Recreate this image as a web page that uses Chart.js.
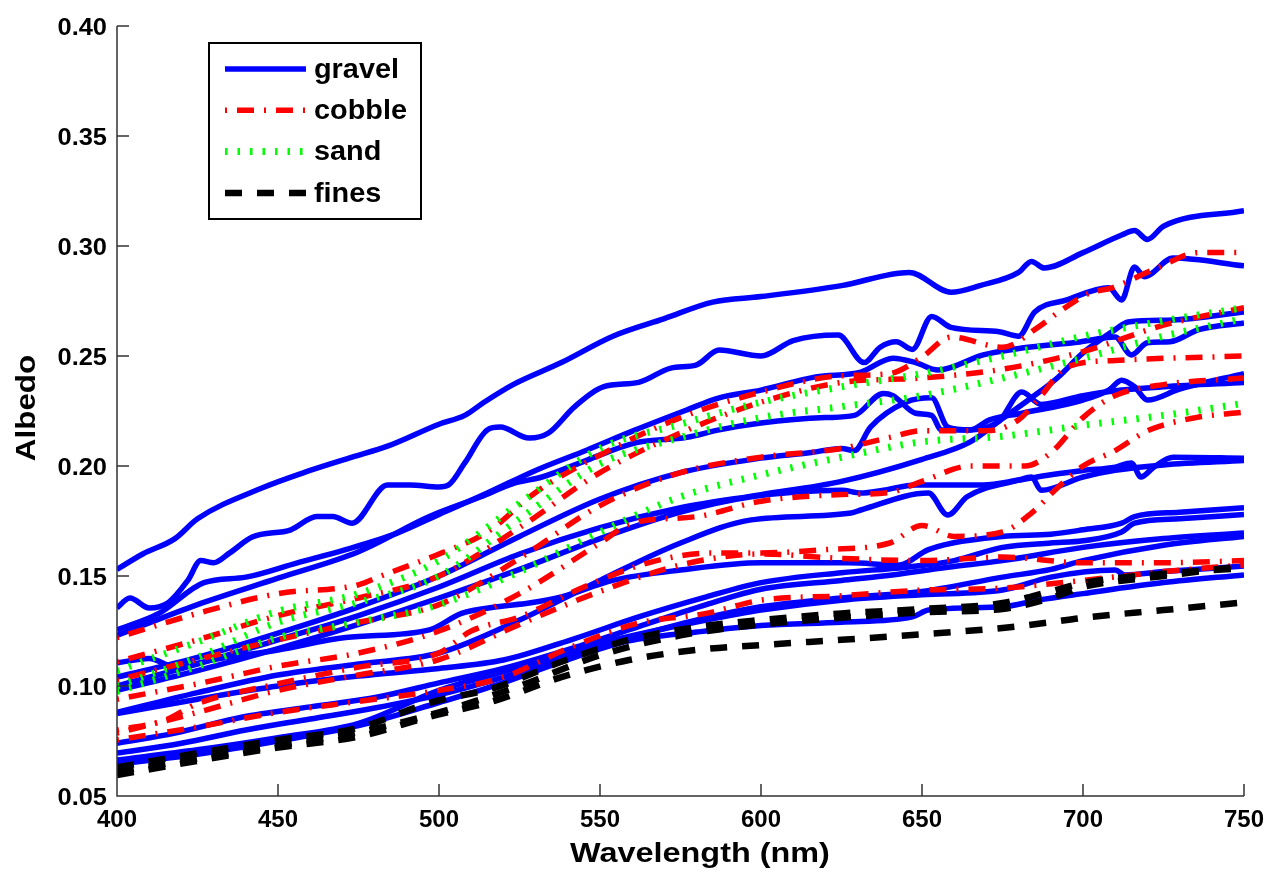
<!DOCTYPE html>
<html>
<head>
<meta charset="utf-8">
<script src="https://cdn.jsdelivr.net/npm/chart.js@4.4.1/dist/chart.umd.min.js"></script>
<style>
  html, body { margin: 0; padding: 0; background: #fff; }
  canvas { display: block; }
</style>
</head>
<body>
<canvas id="albedoChart" width="1270" height="873"></canvas>
<script>
// Axis ticks
const xTicks = [400, 450, 500, 550, 600, 650, 700, 750];
const yTicks = [0.05, 0.10, 0.15, 0.20, 0.25, 0.30, 0.35, 0.40];

// Gravel spectra [wavelength nm, albedo]
const gravel1 = [[400,.153],[408,.160],[418,.167],[425,.176],[445,.190],[458,.197],[473,.204],[484,.209],[500,.219],[508,.223],[514,.229],[523,.237],[538,.247],[554,.259],[570,.267],[585,.2745],[600,.277],[625,.282],[646,.288],[659,.279],[668,.282],[680,.288],[684,.293],[688,.290],[700,.297],[712,.305],[716,.307],[720,.303],[725,.309],[750,.316]];
const gravel2 = [[400,.1355],[404,.140],[410,.1355],[416,.138],[422,.148],[426,.157],[430,.156],[435,.1605],[442,.1677],[454,.171],[462,.177],[467,.177],[473,.174],[484,.1914],[491,.1914],[500,.1905],[503,.1914],[508,.2014],[515,.2164],[519,.2177],[528,.2127],[534,.215],[542,.2268],[551,.236],[562,.238],[572,.2445],[580,.246],[587,.2527],[600,.250],[610,.257],[624,.2595],[632,.247],[637,.254],[642,.2565],[647,.253],[653,.268],[659,.263],[674,.261],[680,.259],[685,.270],[695,.2755],[708,.281],[712,.2755],[716,.2905],[719,.286],[728,.2945],[750,.291]];
const gravel3 = [[400,.1255],[413,.133],[427,.147],[440,.1495],[456,.156],[471,.162],[487,.1695],[500,.178],[515,.1877],[530,.198],[546,.2073],[561,.2164],[577,.2255],[587,.231],[600,.2345],[617,.2405],[631,.2427],[641,.249],[648,.247],[655,.2436],[669,.2505],[681,.2536],[699,.2564],[710,.2586],[715,.2505],[720,.256],[727,.2565],[736,.262],[750,.265]];
const gravel4 = [[400,.123],[425,.137],[450,.149],[475,.161],[497,.177],[513,.186],[523,.192],[532,.195],[546,.2027],[561,.2105],[577,.213],[587,.2164],[600,.2195],[620,.222],[629,.223],[638,.233],[641,.232],[648,.224],[653,.223],[656,.2164],[665,.2164],[671,.221],[681,.224],[700,.230],[708,.2345],[712,.239],[716,.236],[720,.230],[730,.235],[750,.242]];
const gravel5 = [[400,.104],[425,.113],[450,.124],[475,.136],[500,.150],[525,.168],[550,.185],[575,.197],[600,.2036],[615,.206],[625,.208],[629,.207],[634,.2177],[645,.229],[653,.231],[658,.2177],[665,.2164],[674,.2205],[681,.2336],[687,.228],[700,.232],[712,.2345],[725,.236],[750,.238]];
const gravel6 = [[400,.100],[425,.110],[450,.121],[475,.132],[500,.145],[525,.160],[550,.172],[575,.181],[600,.187],[625,.193],[650,.203],[665,.211],[674,.2205],[684,.231],[692,.240],[700,.2514],[710,.262],[714,.2655],[728,.2664],[750,.270]];
const gravel7 = [[400,.098],[425,.107],[450,.117],[475,.128],[500,.140],[525,.153],[550,.167],[575,.179],[597,.186],[625,.189],[631,.1877],[638,.189],[648,.1914],[669,.1914],[680,.1936],[690,.196],[700,.198],[710,.1995],[715,.2014],[718,.195],[722,.1995],[728,.204],[750,.2035]];
const gravel8 = [[400,.088],[425,.097],[450,.105],[475,.110],[500,.115],[525,.130],[550,.148],[575,.165],[597,.1755],[628,.1786],[631,.180],[652,.1877],[658,.1777],[664,.186],[680,.1936],[684,.195],[687,.189],[700,.195],[710,.198],[725,.2005],[750,.2025]];
const gravel9 = [[400,.1105],[410,.1125],[418,.1086],[430,.112],[450,.1164],[471,.122],[497,.1255],[507,.133],[518,.136],[528,.1377],[538,.1405],[554,.148],[575,.1527],[600,.156],[627,.156],[643,.155],[652,.162],[675,.168],[690,.169],[700,.171],[712,.174],[716,.177],[730,.179],[750,.181]];
const gravel10 = [[400,.0875],[425,.094],[450,.100],[475,.1045],[500,.108],[520,.1118],[541,.121],[562,.1314],[583,.1405],[600,.147],[625,.1515],[645,.154],[660,.157],[675,.163],[690,.165],[700,.166],[712,.170],[716,.174],[730,.176],[750,.178]];
const gravel11 = [[400,.074],[418,.0786],[439,.0859],[460,.0905],[481,.095],[500,.1014],[520,.108],[541,.117],[562,.127],[583,.137],[600,.144],[625,.148],[638,.150],[658,.154],[675,.157],[700,.163],[725,.167],[750,.1695]];
const gravel12 = [[400,.0695],[420,.074],[440,.080],[460,.085],[480,.090],[500,.096],[520,.104],[541,.114],[562,.123],[583,.131],[600,.136],[625,.140],[650,.143],[675,.1495],[690,.153],[700,.157],[725,.164],[750,.168]];
const gravel13 = [[400,.0664],[425,.071],[450,.0765],[475,.083],[500,.098],[520,.1065],[541,.116],[562,.1235],[583,.130],[600,.1345],[625,.139],[650,.1415],[675,.1436],[690,.1495],[710,.1527],[713,.1505],[725,.152],[750,.1545]];
const gravel14 = [[400,.0645],[425,.069],[450,.075],[475,.082],[500,.0925],[518,.1005],[538,.111],[559,.1205],[580,.1245],[600,.1275],[625,.129],[647,.1314],[652,.1345],[675,.136],[686,.139],[700,.142],[725,.147],[750,.1505]];

// Cobble spectra
const cobble1 = [[400,.122],[425,.133],[450,.142],[475,.146],[482,.150],[500,.160],[515,.170],[530,.188],[550,.205],[575,.222],[600,.2336],[625,.241],[640,.242],[650,.2495],[659,.2586],[675,.254],[686,.263],[692,.2695],[702,.2786],[709,.281],[723,.290],[736,.297],[750,.297]];
const cobble2 = [[400,.111],[425,.121],[450,.132],[475,.140],[500,.150],[525,.172],[550,.197],[575,.215],[600,.229],[625,.238],[650,.240],[675,.244],[700,.252],[725,.264],[750,.272]];
const cobble3 = [[400,.1027],[425,.112],[450,.121],[475,.129],[500,.137],[525,.158],[550,.182],[575,.197],[600,.204],[625,.208],[640,.213],[650,.216],[670,.216],[680,.221],[687,.232],[695,.245],[710,.248],[750,.250]];
const cobble4 = [[400,.094],[425,.101],[450,.109],[475,.115],[500,.125],[525,.142],[550,.165],[560,.174],[580,.177],[600,.184],[625,.187],[640,.188],[650,.193],[665,.200],[682,.200],[690,.206],[700,.222],[710,.232],[725,.237],[750,.240]];
const cobble5 = [[400,.080],[415,.0845],[425,.092],[450,.101],[475,.1086],[500,.115],[510,.125],[525,.1314],[545,.145],[565,.156],[585,.1605],[600,.1605],[620,.162],[640,.165],[650,.173],[660,.168],[675,.170],[684,.1786],[692,.190],[700,.200],[710,.207],[720,.216],[735,.222],[750,.2245]];
const cobble6 = [[400,.0786],[425,.088],[450,.098],[475,.105],[500,.112],[525,.128],[550,.143],[575,.155],[600,.160],[625,.158],[650,.157],[675,.1586],[700,.156],[725,.156],[750,.157]];
const cobble7 = [[400,.0755],[425,.0814],[450,.088],[475,.093],[500,.098],[520,.104],[541,.1177],[562,.1286],[583,.133],[600,.139],[625,.141],[650,.1436],[675,.1445],[700,.148],[725,.152],[750,.155]];

// Sand spectra
const sand1 = [[400,.107],[425,.120],[450,.134],[475,.142],[500,.157],[525,.183],[550,.208],[575,.219],[600,.229],[625,.236],[650,.242],[675,.250],[700,.259],[725,.266],[750,.272]];
const sand2 = [[400,.100],[425,.113],[450,.129],[475,.138],[500,.150],[525,.176],[550,.201],[575,.213],[600,.222],[625,.227],[650,.232],[675,.240],[700,.249],[725,.259],[750,.267]];
const sand3 = [[400,.0975],[425,.109],[450,.122],[475,.129],[500,.137],[525,.152],[550,.170],[575,.186],[600,.196],[625,.204],[650,.211],[675,.2135],[700,.2185],[725,.223],[750,.2285]];

// Fines spectra
const fines1 = [[400,.063],[425,.0695],[450,.0755],[475,.081],[497,.0923],[518,.0995],[538,.111],[559,.121],[580,.1268],[600,.130],[625,.133],[650,.135],[675,.1377],[690,.143],[700,.1468],[725,.151],[750,.1536]];
const fines2 = [[400,.061],[425,.067],[450,.073],[475,.079],[500,.088],[525,.100],[550,.114],[575,.123],[600,.128],[625,.131],[650,.1335],[675,.135],[690,.140],[700,.145],[725,.150],[750,.1545]];
const fines3 = [[400,.0595],[425,.066],[450,.072],[475,.077],[497,.086],[518,.0936],[538,.104],[559,.1118],[580,.1164],[600,.1186],[625,.121],[650,.1235],[675,.1264],[690,.129],[700,.131],[725,.1345],[750,.138]];

const groups = [
    { label: "gravel", lines: [gravel1, gravel2, gravel3, gravel4, gravel5, gravel6, gravel7, gravel8, gravel9, gravel10, gravel11, gravel12, gravel13, gravel14] },
    { label: "cobble", lines: [cobble1, cobble2, cobble3, cobble4, cobble5, cobble6, cobble7] },
    { label: "sand", lines: [sand1, sand2, sand3] },
    { label: "fines", lines: [fines1, fines2, fines3] }
];

// Line look per class
const looks = {
    gravel: { color: "#0000ff", width: 5.5, dash: [], order: 4 },
    cobble: { color: "#ff0000", width: 5.5, dash: [2, 10, 17, 10], order: 3 },
    sand:   { color: "#00ff00", width: 7, dash: [2.5, 10], order: 2 },
    fines:  { color: "#000000", width: 6.5, dash: [17, 15], order: 1 }
};

const FONT = "'Liberation Sans', Arial, Helvetica, sans-serif";
const AXIS_COLOR = "#333333";

const datasets = [];
groups.forEach(g => {
    const look = looks[g.label];
    g.lines.forEach(line => {
        datasets.push({
            label: g.label,
            data: line.map(p => ({ x: p[0], y: p[1] })),
            borderColor: look.color,
            borderWidth: look.width,
            borderDash: look.dash,
            borderCapStyle: "butt",
            borderJoinStyle: "round",
            pointRadius: 0,
            fill: false,
            cubicInterpolationMode: "monotone",
            order: look.order
        });
    });
});

// draw text squeezed/stretched horizontally (MATLAB export looks wide)
function wideText(ctx, text, x, y, sx) {
    ctx.save();
    ctx.translate(x, y);
    ctx.scale(sx, 1);
    ctx.fillText(text, 0, 0);
    ctx.restore();
}

// Inward ticks, axis lines, labels, titles and boxed legend
const matlabAxes = {
    id: "matlabAxes",
    afterDraw(chart) {
        const ctx = chart.ctx;
        const a = chart.chartArea;
        const xs = chart.scales.x;
        const ys = chart.scales.y;

        ctx.save();
        ctx.strokeStyle = AXIS_COLOR;
        ctx.lineWidth = 1.5;
        ctx.setLineDash([]);
        ctx.beginPath();
        ctx.moveTo(a.left, a.top);
        ctx.lineTo(a.left, a.bottom);
        ctx.lineTo(a.right, a.bottom);
        xTicks.forEach(v => {
            const px = xs.getPixelForValue(v);
            ctx.moveTo(px, a.bottom);
            ctx.lineTo(px, a.bottom - 12);
        });
        yTicks.forEach(v => {
            const py = ys.getPixelForValue(v);
            ctx.moveTo(a.left, py);
            ctx.lineTo(a.left + 12, py);
        });
        ctx.stroke();

        // Tick labels
        ctx.fillStyle = "#000";
        ctx.font = "bold 24px " + FONT;
        ctx.textBaseline = "alphabetic";
        ctx.textAlign = "center";
        xTicks.forEach(v => {
            wideText(ctx, String(v), xs.getPixelForValue(v), 827, 1.0);
        });
        ctx.textAlign = "right";
        yTicks.forEach(v => {
            wideText(ctx, v.toFixed(2), a.left - 10, ys.getPixelForValue(v) + 8.5, 1.06);
        });

        // Axis titles
        ctx.font = "bold 27px " + FONT;
        ctx.textAlign = "center";
        wideText(ctx, "Wavelength (nm)", 700, 862, 1.2);
        ctx.translate(35, 408);
        ctx.rotate(-Math.PI / 2);
        ctx.font = "bold 28px " + FONT;
        wideText(ctx, "Albedo", 0, 0, 1.12);
        ctx.restore();

        // Legend
        ctx.save();
        ctx.fillStyle = "#fff";
        ctx.fillRect(209, 43, 212, 176);
        ctx.strokeStyle = "#000";
        ctx.lineWidth = 2;
        ctx.strokeRect(209, 43, 212, 176);
        ctx.font = "bold 28px " + FONT;
        ctx.textAlign = "left";
        ctx.textBaseline = "middle";
        groups.forEach((g, i) => {
            const look = looks[g.label];
            const cy = 69 + i * 41.3;
            ctx.strokeStyle = look.color;
            ctx.lineWidth = look.width;
            ctx.lineCap = "butt";
            ctx.setLineDash(look.dash);
            ctx.beginPath();
            ctx.moveTo(225, cy);
            ctx.lineTo(306, cy);
            ctx.stroke();
            ctx.setLineDash([]);
            ctx.fillStyle = "#000";
            wideText(ctx, g.label, 314, cy + 1, 1.03);
        });
        ctx.restore();
    }
};

new Chart(document.getElementById("albedoChart").getContext("2d"), {
    type: "line",
    data: { datasets: datasets },
    options: {
        responsive: false,
        animation: false,
        events: [],
        layout: { padding: { top: 26, right: 26, left: 0, bottom: 0 } },
        plugins: {
            legend: { display: false },
            tooltip: { enabled: false }
        },
        scales: {
            x: {
                type: "linear",
                min: 400,
                max: 750,
                border: { display: false },
                grid: { display: false, drawTicks: false },
                afterBuildTicks: s => { s.ticks = xTicks.map(v => ({ value: v })); },
                afterFit: s => { s.height = 77; },
                ticks: { display: false }
            },
            y: {
                type: "linear",
                min: 0.05,
                max: 0.40,
                border: { display: false },
                grid: { display: false, drawTicks: false },
                afterBuildTicks: s => { s.ticks = yTicks.map(v => ({ value: v })); },
                afterFit: s => { s.width = 117; },
                ticks: { display: false }
            }
        }
    },
    plugins: [matlabAxes]
});
</script>
</body>
</html>
